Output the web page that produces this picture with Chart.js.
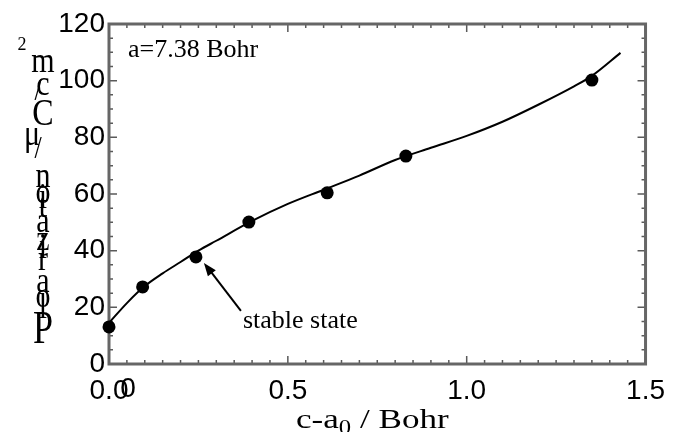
<!DOCTYPE html>
<html><head><meta charset="utf-8">
<script src="https://cdn.jsdelivr.net/npm/chart.js@4.4.1/dist/chart.umd.min.js"></script>
<style>html,body{margin:0;padding:0;background:#fff}#wrap{width:675px;height:432px}</style>
</head><body><div id="wrap"><canvas id="c" width="675" height="432"></canvas></div>
<script>
// measured points
const pointX = [0.0, 0.094, 0.243, 0.391, 0.61, 0.83, 1.35];
const pointY = [13.1, 27.2, 37.8, 50.1, 60.4, 73.4, 100.2];
// fitted curve
const curveX = [0.0, 0.05, 0.1, 0.15, 0.2, 0.25, 0.3, 0.4, 0.5, 0.6, 0.7, 0.8, 0.9, 1.0, 1.1, 1.2, 1.3, 1.35, 1.43];
const curveY = [14.5, 21.5, 27.5, 32, 36, 40, 43.5, 50.5, 56.5, 61.5, 66.5, 72, 76.3, 80.5, 85.5, 91.5, 98, 101.7, 109.8];
const xTicks = [0, 0.5, 1.0, 1.5];
const yTicks = [0, 20, 40, 60, 80, 100, 120];
const note = "a=7.38 Bohr";
const arrowText = "stable state";
const stableIndex = 2;
const xTitle = ["c-a", "0", " / Bohr"];
// stacked y-axis title characters (top to bottom) with baseline y
const yTitleChars = ["2","m","c","/","C","μ","/","n","o","i","t","a","z","i","r","a","l","o","P"];
const yTitleBase  = [50, 72, 95, 100, 125, 145, 158, 187, 203, 208, 217, 232, 250, 258, 270, 292, 318, 307, 343];

const serif = "'Liberation Serif','Times New Roman',serif";
const sans = "'Liberation Sans',Arial,sans-serif";

const decor = {
  id: 'decor',
  beforeDatasetsDraw(chart) {
    const ctx = chart.ctx, a = chart.chartArea, xs = chart.scales.x, ys = chart.scales.y;
    ctx.save();
    ctx.strokeStyle = '#5a5a5a';
    ctx.lineWidth = 1.5;
    for (let i = 0; i <= 30; i++) {
      const x = xs.getPixelForValue(i * 0.05);
      const L = i % 10 === 0 ? 8 : 4;
      ctx.beginPath();
      ctx.moveTo(x, a.bottom); ctx.lineTo(x, a.bottom - L);
      ctx.moveTo(x, a.top); ctx.lineTo(x, a.top + L);
      ctx.stroke();
    }
    for (let i = 0; i <= 24; i++) {
      const y = ys.getPixelForValue(i * 5);
      const L = i % 4 === 0 ? 8 : 4;
      ctx.beginPath();
      ctx.moveTo(a.left, y); ctx.lineTo(a.left + L, y);
      ctx.moveTo(a.right, y); ctx.lineTo(a.right - L, y);
      ctx.stroke();
    }
    ctx.strokeStyle = '#666';
    ctx.lineWidth = 3;
    ctx.strokeRect(a.left, a.top, a.right - a.left, a.bottom - a.top);
    ctx.restore();
  },
  afterDraw(chart) {
    const ctx = chart.ctx, a = chart.chartArea, xs = chart.scales.x, ys = chart.scales.y;
    ctx.save();
    ctx.fillStyle = '#000';
    // note
    ctx.font = '26px ' + serif;
    ctx.textAlign = 'left'; ctx.textBaseline = 'alphabetic';
    ctx.fillText(note, a.left + 19, a.top + 33);
    // arrow annotation
    const px = xs.getPixelForValue(pointX[stableIndex]);
    const py = ys.getPixelForValue(pointY[stableIndex]);
    const tx = px + 8, ty = py + 6, sx = tx + 37, sy = ty + 48;
    ctx.strokeStyle = '#000'; ctx.lineWidth = 2;
    ctx.beginPath(); ctx.moveTo(sx, sy); ctx.lineTo(tx + 4, ty + 5); ctx.stroke();
    const ang = Math.atan2(ty - sy, tx - sx);
    ctx.beginPath();
    ctx.moveTo(tx, ty);
    ctx.lineTo(tx - 13 * Math.cos(ang) + 5 * Math.sin(ang), ty - 13 * Math.sin(ang) - 5 * Math.cos(ang));
    ctx.lineTo(tx - 13 * Math.cos(ang) - 5 * Math.sin(ang), ty - 13 * Math.sin(ang) + 5 * Math.cos(ang));
    ctx.closePath(); ctx.fill();
    ctx.font = '26px ' + serif;
    ctx.fillText(arrowText, sx + 2, sy + 17);
    // extra overlapping zero at origin label
    ctx.font = '28px ' + sans;
    ctx.textAlign = 'center'; ctx.textBaseline = 'alphabetic';
    ctx.fillText('0', xs.getPixelForValue(0) + 19, a.bottom + 33);
    // x title with subscript (horizontally stretched)
    ctx.textAlign = 'left';
    ctx.save();
    ctx.translate(296, 428);
    ctx.scale(1.3, 1.05);
    ctx.font = '27px ' + serif;
    const w1 = ctx.measureText(xTitle[0]).width;
    ctx.fillText(xTitle[0], 0, 0);
    ctx.font = '19px ' + serif;
    const w2 = ctx.measureText(xTitle[1]).width;
    ctx.fillText(xTitle[1], w1, 6);
    ctx.font = '27px ' + serif;
    ctx.fillText(xTitle[2], w1 + w2, 0);
    ctx.restore();
    // stacked y title (vertically stretched)
    ctx.textAlign = 'center';
    for (let i = 0; i < yTitleChars.length; i++) {
      const ch = yTitleChars[i];
      let x = 43, f = '30px ' + serif, sy2 = 1.2;
      if (ch === '2') { f = '18px ' + serif; x = 22; sy2 = 1.1; }
      else if (ch === 'P') { f = '36px ' + serif; sy2 = 1.3; }
      else if (ch === 'C') { f = '32px ' + serif; sy2 = 1.2; }
      else if (ch === 'μ') { f = '30px ' + serif; x = 32; }
      else if (ch === '/') { f = '26px ' + serif; x = 38; }
      ctx.save();
      ctx.translate(x, yTitleBase[i]);
      ctx.scale(1, sy2);
      ctx.font = f;
      ctx.fillText(ch, 0, 0);
      ctx.restore();
    }
    ctx.restore();
  }
};

new Chart(document.getElementById('c'), {
  type: 'scatter',
  data: {
    datasets: [
      { data: curveX.map((x, i) => ({ x, y: curveY[i] })), showLine: true, borderColor: '#000', borderWidth: 2,
        pointRadius: 0, tension: 0.4, cubicInterpolationMode: 'monotone', clip: false },
      { data: pointX.map((x, i) => ({ x, y: pointY[i] })), backgroundColor: '#000', borderColor: '#000',
        pointRadius: 6.5, borderWidth: 0, clip: false }
    ]
  },
  options: {
    responsive: false, animation: false, devicePixelRatio: 1,
    layout: { padding: { left: 0, right: 29, top: 24, bottom: 0 } },
    plugins: { legend: { display: false }, tooltip: { enabled: false } },
    scales: {
      x: {
        type: 'linear', min: 0, max: 1.5,
        afterBuildTicks(s) { s.ticks = xTicks.map(v => ({ value: v })); },
        afterFit(s) { s.height = 68; },
        grid: { display: false, drawTicks: false }, border: { display: false },
        ticks: { color: '#000', font: { family: sans, size: 28 }, padding: 10, maxRotation: 0,
          callback: v => Number(v).toFixed(1) }
      },
      y: {
        type: 'linear', min: 0, max: 120,
        afterBuildTicks(s) { s.ticks = yTicks.map(v => ({ value: v })); },
        afterFit(s) { s.width = 109; },
        grid: { display: false, drawTicks: false }, border: { display: false },
        ticks: { color: '#000', font: { family: sans, size: 28 }, padding: 4 }
      }
    }
  },
  plugins: [decor]
});
</script></body></html>
